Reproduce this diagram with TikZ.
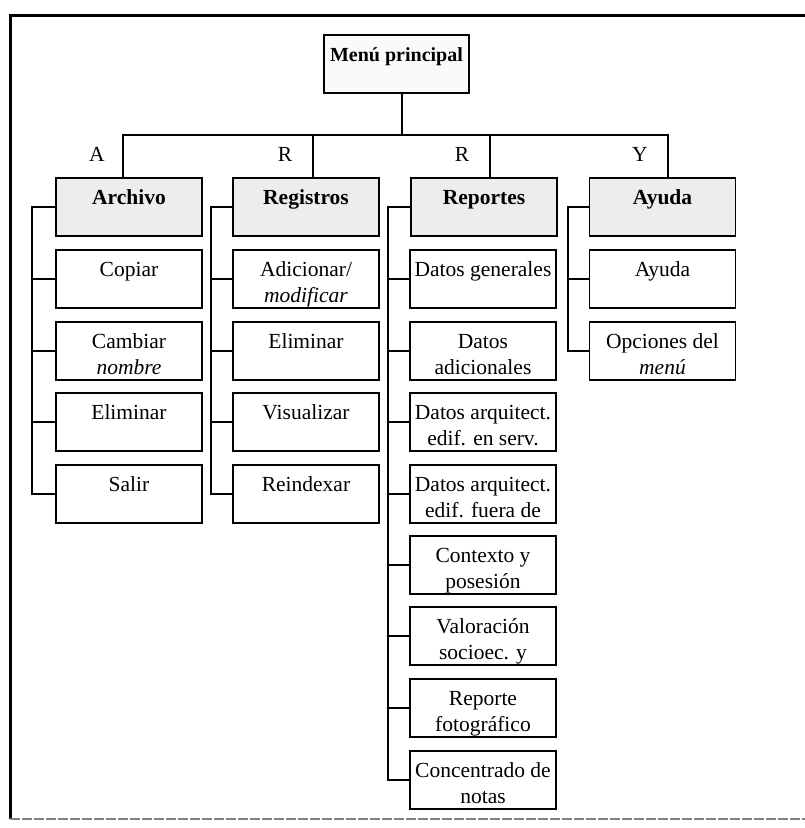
\documentclass[tikz,border=0pt]{standalone}
\usepackage{fontspec}
\setmainfont{Liberation Serif}
\newcommand\mytop{\rule{0pt}{26pt}}
\newcommand\mybot{\rule[-6pt]{0pt}{6pt}}
\newcommand\twol[2]{\mytop #1\\\mybot #2}
\begin{document}
\begin{tikzpicture}[x=1pt,y=-1pt,
  box/.style={draw=black, line width=1.6pt, minimum width=146pt, minimum height=58pt,
    inner xsep=0pt, inner ysep=0pt, align=center, fill=white,
    font=\fontsize{21.5}{26}\selectfont},
  head/.style={box, fill=gray!14, font=\fontsize{21.5}{26}\selectfont\bfseries},
  conn/.style={line width=1.6pt},
  lett/.style={inner sep=0pt, font=\fontsize{21.5}{26}\selectfont}]
\useasboundingbox (0,0) rectangle (805,828);
% frame
\draw[line width=3pt] (805,15) -- (10,15) -- (10,819);
\draw[line width=1.4pt, gray, dash pattern=on 10pt off 2pt] (10,819) -- (805,819);

% main
\node[box, minimum width=145pt, fill=gray!4, font=\fontsize{20}{26}\selectfont\bfseries] (menu) at (396.5,64) {\twol{Menú principal}{}};

% headers
\node[head] (h1) at (129,207) {\twol{Archivo}{}};
\node[head] (h2) at (306,207) {\twol{Registros}{}};
\node[head] (h3) at (484,207) {\twol{Reportes}{}};
\node[head] (h4) at (662.5,207) {\twol{Ayuda}{}};

% letters
\node[lett] (la) at (97,154) {A};
\node[lett] (lr1) at (285,154) {R};
\node[lett] (lr2) at (462,154) {R};
\node[lett] (ly) at (640,154) {Y};

% column 1
\node[box] (a1) at (129,279) {\twol{Copiar}{}};
\node[box] (a2) at (129,351) {\twol{Cambiar}{\textit{nombre}}};
\node[box] (a3) at (129,422) {\twol{Eliminar}{}};
\node[box] (a4) at (129,494) {\twol{Salir}{}};

% column 2
\node[box] (b1) at (306,279) {\twol{Adicionar/}{\textit{modificar}}};
\node[box] (b2) at (306,351) {\twol{Eliminar}{}};
\node[box] (b3) at (306,422) {\twol{Visualizar}{}};
\node[box] (b4) at (306,494) {\twol{Reindexar}{}};

% column 3
\node[box] (c1) at (483,279) {\twol{Datos generales}{}};
\node[box] (c2) at (483,351) {\twol{Datos}{adicionales}};
\node[box] (c3) at (483,422) {\twol{Datos arquitect.}{edif. en serv.}};
\node[box] (c4) at (483,494) {\twol{Datos arquitect.}{edif. fuera de}};
\node[box] (c5) at (483,565) {\twol{Contexto y}{posesión}};
\node[box] (c6) at (483,636) {\twol{Valoración}{socioec. y}};
\node[box] (c7) at (483,708) {\twol{Reporte}{fotográfico}};
\node[box] (c8) at (483,780) {\twol{Concentrado de}{notas}};

% column 4
\node[box] (d1) at (662.5,279) {\twol{Ayuda}{}};
\node[box] (d2) at (662.5,351) {\twol{Opciones del}{\textit{menú}}};

% top connectors
\coordinate (bus) at (402,135);
\draw[conn] (bus |- menu.south) -- (bus);
\draw[conn] ([xshift=-6pt]h1.north) |- (bus) -| ([xshift=5.5pt]h4.north);
\draw[conn] ([xshift=7pt]h2.north) |- (bus);
\draw[conn] ([xshift=6pt]h3.north) |- (bus);

% side connectors
\draw[conn] (h1.west) -| ([xshift=-23pt]a4.west) -- (a4.west);
\foreach \n in {a1,a2,a3} \draw[conn] (\n.west) -- ++(-23,0);
\draw[conn] (h2.west) -| ([xshift=-21pt]b4.west) -- (b4.west);
\foreach \n in {b1,b2,b3} \draw[conn] (\n.west) -- ++(-21,0);
\draw[conn] (h3.west) -| ([xshift=-21pt]c8.west) -- (c8.west);
\foreach \n in {c1,c2,c3,c4,c5,c6,c7} \draw[conn] (\n.west) -- ++(-21,0);
\draw[conn] (h4.west) -| ([xshift=-21pt]d2.west) -- (d2.west);
\draw[conn] (d1.west) -- ++(-21,0);
\end{tikzpicture}
\end{document}
